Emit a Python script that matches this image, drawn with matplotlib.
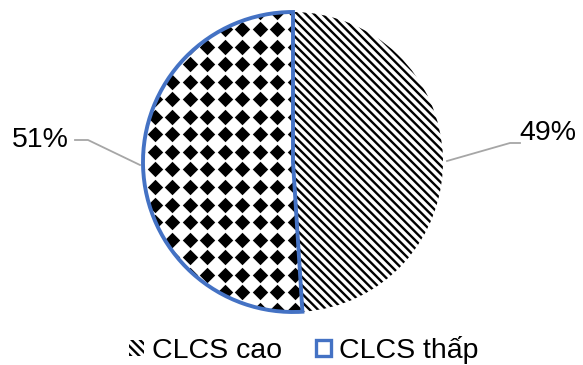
import numpy as np
import matplotlib
matplotlib.use("Agg")
import matplotlib.pyplot as plt
from matplotlib.patches import Patch

plt.rcParams['font.family'] = ['Liberation Sans', 'DejaVu Sans']
plt.rcParams['hatch.linewidth'] = 1.7

labels = ['CLCS cao', 'CLCS thấp']
values = [49, 51]
pct_text = ['49%', '51%']
blue = '#4472C4'
grey = '#A6A6A6'

fig = plt.figure(figsize=(5.83, 3.65), dpi=100)
W, H = 583, 365
cx, cy, r = 293, 162, 150   # pie centre / radius in pixels
ax = fig.add_axes([(cx - r) / W, (H - cy - r) / H, 2 * r / W, 2 * r / H])

wedges, _ = ax.pie(values, startangle=90, counterclock=False, radius=1,
                   colors=['white', 'none'])
ax.set_xlim(-1, 1)
ax.set_ylim(-1, 1)
ax.axis('off')

w_hi, w_lo = wedges
w_hi.set_hatch('\\\\\\\\')
w_hi.set_edgecolor('black')
w_hi.set_linewidth(0)
w_hi.set_clip_on(False)
w_lo.set_edgecolor(blue)
w_lo.set_linewidth(2.8)
w_lo.set_zorder(3)
w_lo.set_clip_on(False)

# diamond pattern inside the "thap" wedge
step = 17.5 / r
gx = np.arange(-1.2, 0.3, step) + ((212 - cx) / r) % step
gy = np.arange(-1.2, 1.3, step) + ((cy - 112) / r) % step
X, Y = np.meshgrid(gx, gy)
dots = ax.scatter(X.ravel(), Y.ravel(), marker='D', s=62, c='black',
                  linewidths=0, zorder=2)
dots.set_clip_path(w_lo)

# percentage labels with leader lines
def px(x, y):
    return ((x - cx) / r, (cy - y) / r)

leaders = {
    0: [(447, 161), (510, 143), (520, 143)],
    1: [(140, 165), (88, 140), (75, 140)],
}
text_pos = {0: (548, 133), 1: (40, 140)}
for i in range(len(values)):
    pts = np.array([px(*p) for p in leaders[i]])
    ax.plot(pts[:, 0], pts[:, 1], color=grey, lw=1.3, clip_on=False, zorder=1)
    tx, ty = px(*text_pos[i])
    ax.text(tx, ty, pct_text[i], fontsize=20.5, ha='center', va='center',
            color='black', clip_on=False)

handles = [
    Patch(facecolor='white', edgecolor='black', hatch='\\\\\\\\', linewidth=0),
    Patch(facecolor='white', edgecolor=blue, linewidth=2.4),
]
fig.legend(handles, labels, loc='center', bbox_to_anchor=(304 / W, 1 - 350 / H),
           ncol=2, frameon=False, fontsize=20.5, handlelength=0.5,
           handleheight=0.5, handletextpad=0.3, columnspacing=1.2,
           borderaxespad=0, borderpad=0)

fig.savefig('out.png', dpi=100, facecolor='white')
